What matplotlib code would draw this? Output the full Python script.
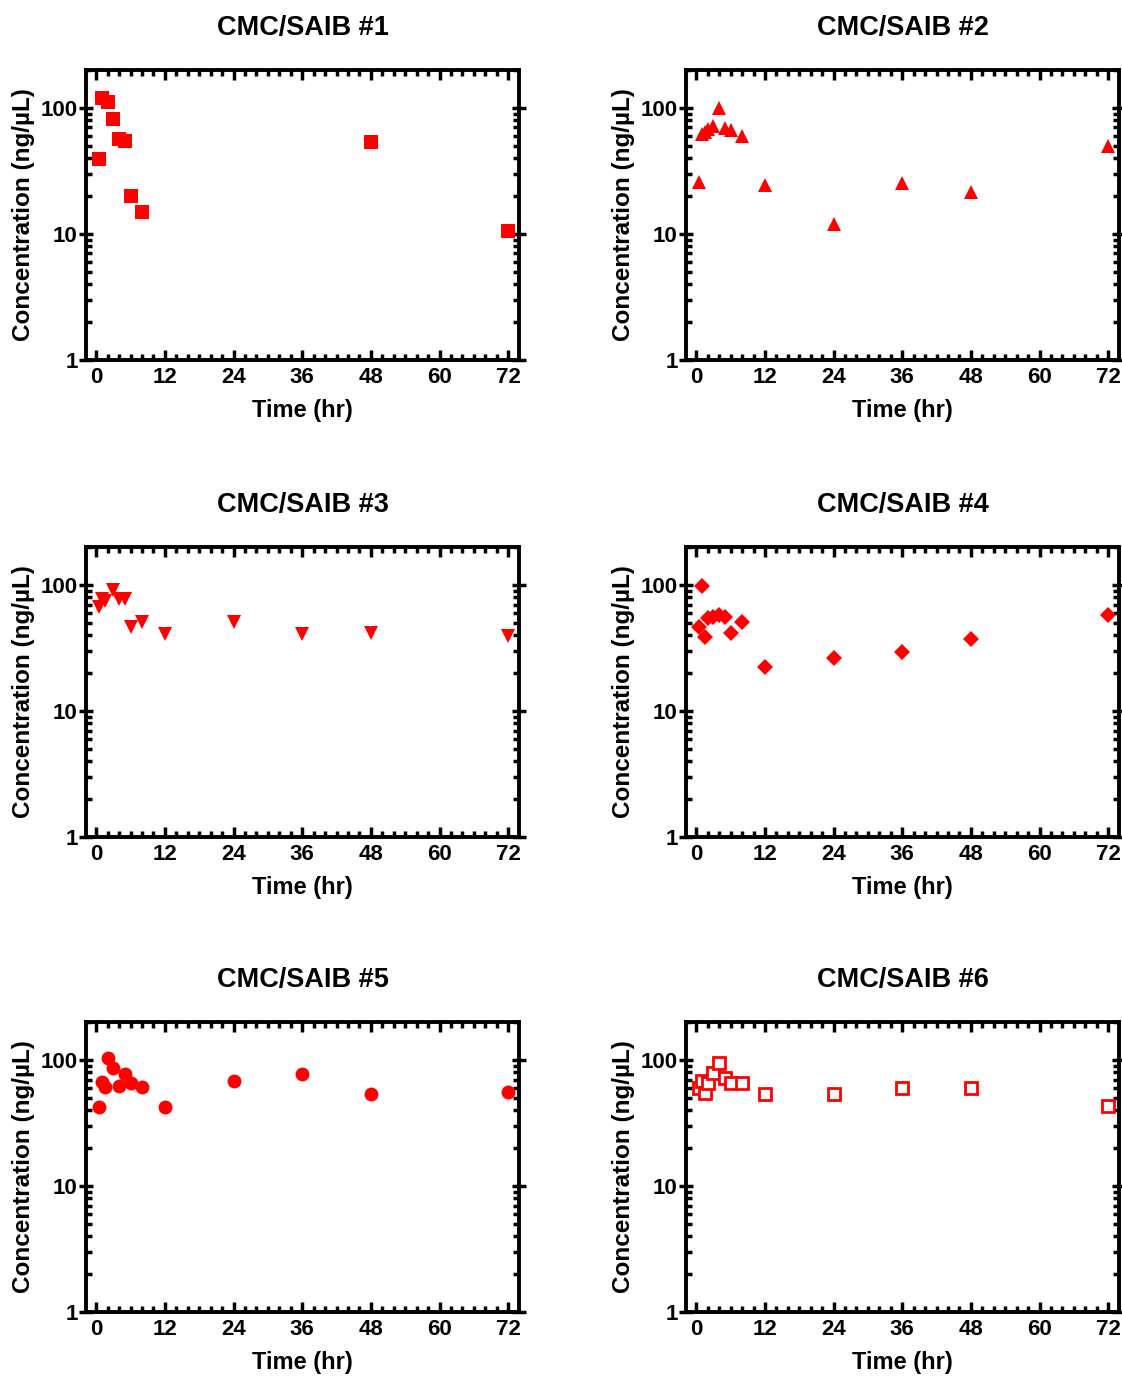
#Concentration vs time for the six CMC/SAIB samples (log scale)
import numpy as np
import matplotlib.pyplot as plt
from matplotlib.ticker import FixedLocator, MultipleLocator, LogLocator, NullFormatter

plt.rcParams['font.family'] = ['Liberation Sans', 'DejaVu Sans']
plt.rcParams['font.weight'] = 'bold'

# Sample times (hr) and concentrations (ng/uL)
t1 = [0.5, 1, 2, 3, 4, 5, 6, 8, 48, 72]
c1 = [39, 119, 112, 82, 57, 55, 20, 14.8, 54, 10.6]

t2 = [0.5, 1, 1.5, 2, 3, 4, 5, 6, 8, 12, 24, 36, 48, 72]
c2 = [26, 62, 64.5, 68, 72, 99.5, 69, 66.5, 60, 24.4, 11.9, 25.4, 21.7, 50]

t3 = [0.5, 1, 1.5, 3, 4, 5, 6, 8, 12, 24, 36, 48, 72]
c3 = [67, 77, 74.5, 91, 77, 77, 46, 51, 41.2, 51, 41.2, 41.7, 39.5]

t4 = [0.5, 1, 1.5, 2, 3, 4, 5, 6, 8, 12, 24, 36, 48, 72]
c4 = [46.6, 98.7, 38.8, 55, 56, 57.7, 56, 41.7, 51, 22.4, 26.1, 29.5, 37.2, 57.4]

t5 = [0.5, 1, 1.5, 2, 3, 4, 5, 6, 8, 12, 24, 36, 48, 72]
c5 = [42.5, 66.3, 61.3, 104, 85.7, 62.5, 77.8, 65.5, 61.3, 42, 68.4, 76.8, 53.6, 56]

t6 = [0.5, 1, 1.5, 2, 3, 4, 5, 6, 8, 12, 24, 36, 48, 72]
c6 = [59.4, 67.9, 55, 66, 79.3, 94, 71.4, 66, 65.1, 54.2, 54.2, 59.4, 59.4, 43]

titles = ['CMC/SAIB #1', 'CMC/SAIB #2', 'CMC/SAIB #3',
          'CMC/SAIB #4', 'CMC/SAIB #5', 'CMC/SAIB #6']
times = [t1, t2, t3, t4, t5, t6]
concs = [c1, c2, c3, c4, c5, c6]
markers = ['s', '^', 'v', 'D', 'o', 's']
sizes = [9.5, 10.5, 10.5, 8, 10, 9]
filled = [True, True, True, True, True, False]

fig = plt.figure(figsize=(11.22, 13.78), dpi=100)

# axes boxes in figure fractions (left column / right column, three rows)
lefts = [0.0766, 0.6114]
bottoms = [0.7388, 0.3926, 0.0479]
w, h = 0.386, 0.2104

for i in range(6):
    ax = fig.add_axes([lefts[i % 2], bottoms[i // 2], w, h])
    if filled[i]:
        ax.plot(times[i], concs[i], linestyle='none', marker=markers[i],
                markersize=sizes[i], color='red', markeredgewidth=0)
    else:
        ax.plot(times[i], concs[i], linestyle='none', marker=markers[i],
                markersize=sizes[i], markerfacecolor='white',
                markeredgecolor='red', markeredgewidth=2)
    ax.set_yscale('log')
    ax.set_ylim(1, 200)
    ax.set_xlim(-1.8, 73.9)
    ax.xaxis.set_major_locator(FixedLocator([0, 12, 24, 36, 48, 60, 72]))
    ax.xaxis.set_minor_locator(MultipleLocator(2))
    ax.yaxis.set_major_locator(FixedLocator([1, 10, 100]))
    ax.yaxis.set_minor_locator(LogLocator(base=10, subs=np.arange(2, 10)))
    ax.yaxis.set_minor_formatter(NullFormatter())
    ax.set_yticklabels(['1', '10', '100'])
    for s in ax.spines.values():
        s.set_linewidth(2.8)
    ax.tick_params(which='both', top=True, right=True, direction='in', width=2.5)
    ax.tick_params(which='major', length=7, labelsize=16, pad=5)
    ax.tick_params(which='minor', length=4)
    ax.tick_params(axis='y', which='major', direction='inout', length=10, pad=1)
    ax.set_xlabel('Time (hr)', fontsize=17, fontweight='bold')
    ax.set_ylabel('Concentration (ng/µL)', fontsize=17.5, fontweight='bold')
    ax.xaxis.set_label_coords(0.5, -0.135)
    ax.yaxis.set_label_coords(-0.118, 0.5)
    ax.set_title(titles[i], fontsize=19.5, fontweight='bold', pad=25)

plt.savefig('out.png', dpi=100)
